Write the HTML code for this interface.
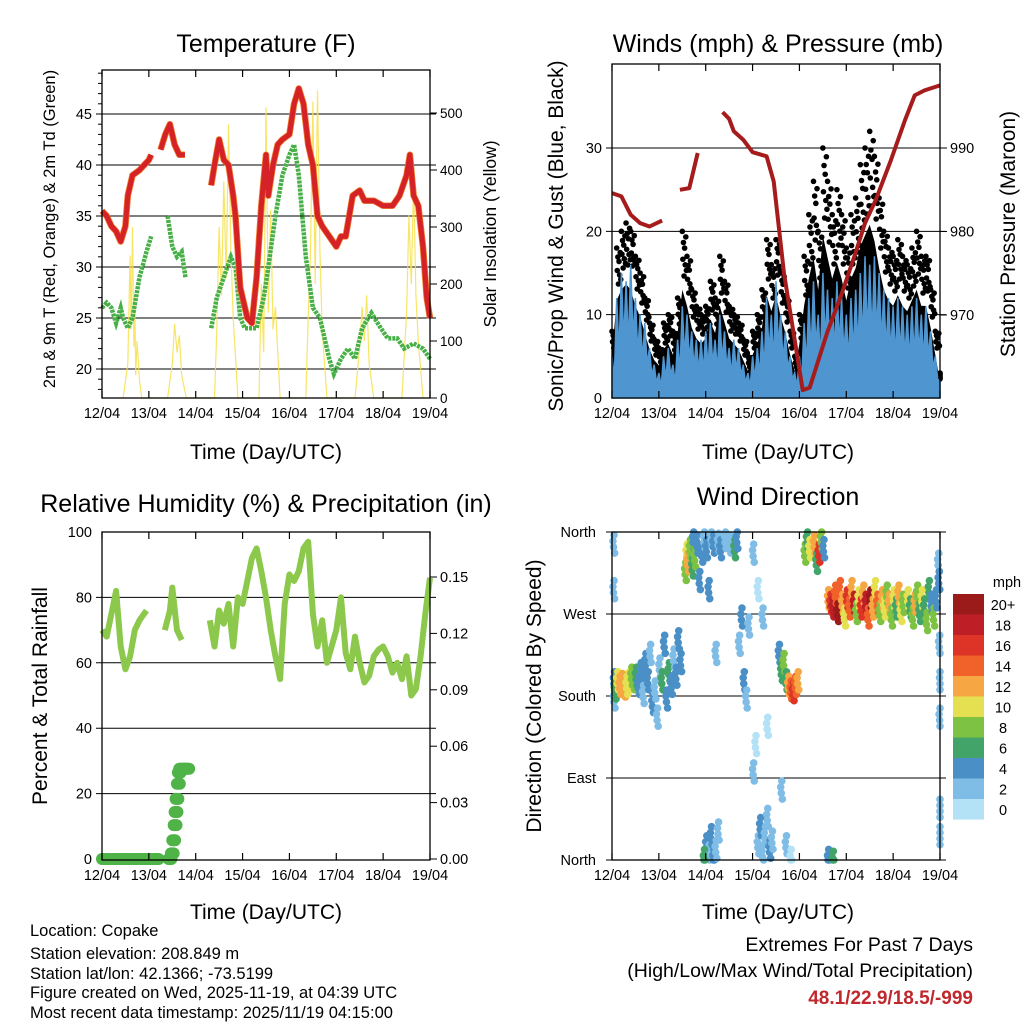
<!DOCTYPE html>
<html><head><meta charset="utf-8"><style>
html,body{margin:0;padding:0;background:#fff}
svg{display:block;font-family:"Liberation Sans",Arial,sans-serif}
</style></head><body>
<svg id="c" width="1024" height="1024" viewBox="0 0 1024 1024"></svg>
<script>
// ---------- DATA ----------
const dayLabels = ["12/04","13/04","14/04","15/04","16/04","17/04","18/04","19/04"];
const tempT = [[0,35.5],[0.1,35],[0.2,34],[0.3,33.5],[0.4,32.5],[0.5,34],[0.55,37],[0.65,39],[0.8,39.5],[0.9,40],[1.0,40.5],[1.05,41],null,
 [1.25,41.5],[1.35,43],[1.45,44],[1.55,42],[1.65,41],[1.77,41],null,
 [2.33,38],[2.4,40],[2.5,42.5],[2.6,40.5],[2.7,40],[2.8,37],[2.85,35],[2.95,28],[3.1,25],[3.2,24.5],[3.3,29],[3.4,36],[3.5,41],[3.55,37],[3.65,40],[3.75,42],[3.85,42.5],[4.0,43],[4.1,46],[4.2,47.5],[4.3,46],[4.4,42],[4.5,40],[4.6,35],[4.7,34],[4.85,33],[5.0,32],[5.1,33],[5.2,33],[5.35,37],[5.5,37.5],[5.6,36.5],[5.8,36.5],[6.0,36],[6.2,36],[6.35,37],[6.5,39],[6.57,41],[6.65,37],[6.75,36],[6.85,32],[6.93,27],[7.0,25]];
const tempTd = [[0,26],[0.1,26.5],[0.2,26],[0.3,24.5],[0.4,26],[0.45,25],[0.55,24],[0.65,25],[0.8,29],[0.95,31.5],[1.05,33],null,
 [1.4,35],[1.5,32],[1.6,31],[1.7,31.5],[1.78,29],null,
 [2.33,24],[2.45,27],[2.6,29],[2.75,31],[2.85,30],[2.95,25],[3.05,24],[3.2,24],[3.3,24],[3.45,27],[3.55,30],[3.7,35],[3.85,39],[4.0,41],[4.1,42],[4.2,39],[4.35,31],[4.5,26],[4.65,25],[4.85,21],[4.95,19.5],[5.1,21],[5.25,22],[5.4,21],[5.55,24],[5.75,25.5],[5.95,24],[6.1,23],[6.3,23],[6.45,22],[6.65,22.5],[6.85,22],[7.0,21]];
const solarT = [0.45,0.55,0.6,0.62,0.65,0.68,0.7,0.72,0.75,0.8,0.85, 1.4,1.5,1.55,1.6,1.65,1.7,1.8, 2.4,2.45,2.5,2.55,2.6,2.65,2.7,2.75,2.8,2.9, 3.35,3.4,3.45,3.5,3.55,3.6,3.65,3.7,3.8, 4.35,4.4,4.45,4.5,4.55,4.6,4.65,4.7,4.8, 5.4,5.5,5.55,5.6,5.65,5.7,5.8, 6.4,6.5,6.55,6.6,6.65,6.7,6.75,6.85];
const solarV = [0,60,250,120,300,90,180,40,100,30,0, 0,60,130,80,110,40,0, 0,120,300,180,380,210,480,260,140,0, 0,200,80,510,150,330,120,160,0, 0,140,260,520,200,540,260,120,0, 0,90,160,100,180,60,0, 0,150,320,200,380,180,100,0];
const windAvg = [5,12,15,14,16,12,10,9,6,4,3,5,6,4,7,11,10,8,7,7,8,9,7,10,8,6,7,6,4,3,5,6,8,12,10,14,10,8,5,3,5,9,12,14,10,15,13,12,14,12,10,12,13,15,17,16,17,15,13,12,11,12,11,10,11,12,10,11,8,5,2];
const windGust = [8,18,20,21,20,17,15,12,9,7,6,9,10,8,12,20,17,13,11,10,11,14,12,17,14,11,10,9,7,5,8,10,13,19,16,19,15,12,8,5,10,17,22,26,20,30,26,22,25,22,18,22,24,28,30,32,29,24,20,18,17,19,17,16,18,20,17,17,13,8,3];
const pressure = [[0,984.6],[0.2,984.2],[0.4,982],[0.6,981],[0.8,980.6],[1.07,981.3],null,[1.45,985],[1.65,985.2],[1.83,989.4],null,
 [2.36,994.3],[2.5,993.5],[2.6,992],[2.8,991],[3.0,989.5],[3.3,989],[3.45,986],[3.67,975],[3.9,967],[4.07,961],[4.22,961.3],[4.4,964.5],[4.6,968],[4.9,972.5],[5.2,977.5],[5.4,981],[5.63,983.8],[5.95,988.5],[6.25,993.3],[6.46,996.3],[6.67,996.9],[7.0,997.5]];
const rh = [[0,70],[0.1,68],[0.2,75],[0.3,82],[0.4,65],[0.5,58],[0.6,62],[0.7,70],[0.8,73],[0.95,76],null,
 [1.34,70],[1.45,76],[1.5,83],[1.6,70],[1.7,67],null,
 [2.3,73],[2.4,65],[2.5,76],[2.6,72],[2.7,78],[2.8,65],[2.9,80],[3.0,78],[3.1,85],[3.2,92],[3.3,95],[3.4,88],[3.5,80],[3.6,70],[3.7,62],[3.8,55],[3.9,78],[4.0,87],[4.1,85],[4.2,88],[4.3,95],[4.4,97],[4.5,75],[4.6,65],[4.7,73],[4.8,60],[4.9,65],[5.0,70],[5.1,80],[5.2,63],[5.3,58],[5.4,68],[5.5,60],[5.6,54],[5.7,56],[5.8,62],[5.9,64],[6.0,65],[6.1,62],[6.2,57],[6.3,60],[6.4,55],[6.5,62],[6.6,50],[6.7,52],[6.8,62],[6.9,75],[7.0,86]];
const precipT = [0,0.1,0.2,0.3,0.4,0.5,0.6,0.7,0.8,0.9,1.0,1.1,1.15,1.42,1.47,1.5,1.53,1.55,1.57,1.6,1.62,1.65,1.7,1.75,1.8];
const precipV = [0,0,0,0,0,0,0,0,0,0,0,0,0,0,0.003,0.01,0.018,0.025,0.032,0.04,0.046,0.048,0.048,0.048,0.048];
const dirT = [0.02,0.02,0.03,0.03,0.05,0.1,0.15,0.2,0.25,0.3,0.35,0.4,0.45,0.5,0.55,0.6,0.65,0.7,0.75,0.8,0.85,0.9,0.95,1.0,1.05,1.1,1.15,1.2,1.25,1.3,1.35,1.4,1.45,
 1.55,1.58,1.6,1.65,1.7,1.72,1.75,1.8,1.85,1.9,1.95,2.0,2.05,2.1,2.15,2.2,2.25,2.3,2.4,2.5,2.6,2.65,
 2.0,2.05,2.1,2.15,2.2,2.25,1.95,2.7,2.75,2.8,2.85,2.9,3.0,3.05,3.1,3.15,3.2,3.25,3.3,3.35,3.4,3.0,3.1,3.2,3.3,
 3.55,3.6,3.65,3.7,3.75,3.8,3.85,3.9,3.95,3.6,3.7,3.8,4.1,4.15,4.2,4.3,4.35,4.4,4.45,4.5,4.6,4.7,
 4.6,4.65,4.7,4.75,4.8,4.85,4.9,4.95,5.0,5.05,5.1,5.15,5.2,5.25,5.3,5.35,5.4,5.45,5.5,5.55,5.6,5.65,5.7,5.75,5.8,5.85,5.9,5.95,6.0,6.05,6.1,6.15,6.2,6.3,6.35,6.4,6.45,6.5,6.55,6.6,6.65,6.7,6.75,6.8,6.85,6.9,
 6.95,6.97,6.98,7.0,7.0,6.99,6.96];
const dirV = [350,300,200,180,190,200,195,198,192,195,200,205,200,205,195,210,185,220,200,230,175,190,160,215,200,240,180,210,195,225,205,245,220,
 320,340,330,345,325,355,335,350,310,340,355,345,300,358,350,230,352,345,355,350,345,355,
 20,10,30,5,15,35,5,240,270,200,180,260,100,130,20,40,10,30,50,15,25,340,300,270,150,
 230,210,220,200,195,190,188,195,200,80,20,5,340,355,345,350,330,340,355,345,5,3,
 290,285,280,295,275,300,285,270,290,280,300,285,275,290,280,295,285,270,290,280,300,285,275,290,280,295,285,270,290,280,295,275,285,290,280,270,285,295,275,290,280,265,300,285,270,290,
 330,240,160,30,60,200,310];
const dirS = [3,2,4,3,6,10,12,13,12,11,10,9,8,6,5,4,3,4,5,3,4,3,2,3,6,4,5,6,4,3,5,4,5,
 8,10,12,9,6,5,8,4,5,4,3,4,5,3,4,3,2,4,3,2,6,5,
 4,3,5,4,3,2,6,3,4,5,3,2,2,1,3,4,3,2,3,4,3,2,1,2,1,
 5,6,8,7,12,14,16,15,13,3,2,1,8,6,10,12,7,16,8,5,4,6,
 12,16,18,14,20,15,12,10,16,14,12,18,8,10,16,12,18,14,20,12,10,15,9,12,10,8,13,8,11,7,12,10,8,11,7,9,12,8,6,10,7,9,6,5,8,4,
 3,2,3,2,3,2,4];
const cbLabels = ["20+","18","16","14","12","10","8","6","4","2","0"];

// ---------- DRAW ----------
const NS="http://www.w3.org/2000/svg", svg=document.getElementById('c');
function el(tag,attrs,parent,text){const e=document.createElementNS(NS,tag);for(const k in attrs)e.setAttribute(k,attrs[k]);if(text!==undefined)e.textContent=text;(parent||svg).appendChild(e);return e;}
function lin(d0,d1,r0,r1){return v=>r0+(v-d0)/(d1-d0)*(r1-r0);}
function pathFrom(pts,fx,fy){let d="",pen=false;for(const p of pts){if(!p){pen=false;continue;}d+=(pen?"L":"M")+fx(p[0]).toFixed(1)+","+fy(p[1]).toFixed(1);pen=true;}return d;}
const spdColors=["#b3e2f7","#7fbde6","#4a8fc6","#43a46a","#7dc243","#e5e052","#f6a743","#f0622a","#dd3427","#be1e26","#9b1a1a"];
function spdColor(s){return spdColors[Math.min(10,Math.max(0,Math.floor(s/2)))];}
const TICK=14.5;
function frame(g,x0,x1,y0,y1){
  el('rect',{x:x0,y:y0,width:x1-x0,height:y1-y0,fill:'none',stroke:'#000','stroke-width':1.3},g);
  const fx=lin(0,7,x0,x1);
  dayLabels.forEach((l,i)=>{const x=fx(i);
    el('line',{x1:x,x2:x,y1:y1,y2:y1-7,stroke:'#000','stroke-width':1.2},g);
    el('line',{x1:x,x2:x,y1:y0,y2:y0+7,stroke:'#000','stroke-width':1.2},g);
    const t=el('text',{x:x,y:y1+20,'font-size':TICK,'text-anchor':'middle'},g,l);
    });
  return fx;
}
function label(g,x,y,txt,size,anchor,rot,name,extra){
  const a={x:x,y:y,'font-size':size,'text-anchor':anchor||'middle'};
  if(rot)a.transform=`rotate(${rot} ${x} ${y})`;
  for(const k in (extra||{}))a[k]=extra[k];
  const t=el('text',a,g,txt);return t;
}
function grid(g,x0,x1,y){el('line',{x1:x0-6,x2:x1+6,y1:y,y2:y,stroke:'#000','stroke-width':1},g);}

// Panel 1: temperature
(function(){
  const g=el('g',{}),X0=102,X1=430,Y0=70,Y1=398;
  
  const fx=lin(0,7,X0,X1), fy=lin(20,45,369,114), fs=lin(0,500,398,113);
  [20,25,30,35,40,45].forEach(v=>{grid(g,X0,X1,fy(v));label(g,X0-10,fy(v)+5,String(v),TICK,'end',0,'left-tick-label');});
  for(let v=18;v<=49;v++){if(v%5)el('line',{x1:X0,x2:X0-4,y1:fy(v),y2:fy(v),stroke:'#000'},g);}
  [0,100,200,300,400,500].forEach(v=>{el('line',{x1:X1,x2:X1+7,y1:fs(v),y2:fs(v),stroke:'#000'},g);label(g,X1+10,fs(v)+5,String(v),13.5,'start',0,'right-tick-label');});
  let sd="";solarT.forEach((t,i)=>{sd+=(i?"L":"M")+fx(t).toFixed(1)+","+fs(solarV[i]).toFixed(1);});
  const sp=el('path',{d:sd,fill:'none',stroke:'#f7e04a','stroke-width':1.2,opacity:0.85},g);
  const td=el('path',{d:pathFrom(tempTd,fx,fy),fill:'none',stroke:'#46b046','stroke-width':4.5,'stroke-dasharray':'3 1'},g);
  const to=el('path',{d:pathFrom(tempT,fx,fy),fill:'none',stroke:'#f07c30','stroke-width':6.5,'stroke-linejoin':'round'},g);
  const tt=el('path',{d:pathFrom(tempT,fx,fy),fill:'none',stroke:'#d42226','stroke-width':5,'stroke-linejoin':'round'},g);
  frame(g,X0,X1,Y0,Y1);
  label(g,266,52,'Temperature (F)',25,'middle',0,'chart-title');
  label(g,266,459,'Time (Day/UTC)',21,'middle',0,'x-axis-title');
  label(g,55,229,'2m & 9m T (Red, Orange) & 2m Td (Green)',16.5,'middle',-90,'y-axis-title');
  label(g,496,234,'Solar Insolation (Yellow)',17.5,'middle',-90,'y2-axis-title');
})();

// Panel 2: winds
(function(){
  const g=el('g',{}),X0=612,X1=940,Y0=64,Y1=398;
  
  const fx=lin(0,7,X0,X1), fy=lin(0,30,398,148), fp=lin(970,990,315,148);
  [10,20,30].forEach(v=>grid(g,X0,X1,fy(v)));
  [0,10,20,30].forEach(v=>label(g,X0-10,fy(v)+5,String(v),TICK,'end',0,'left-tick-label'));
  [970,980,990].forEach(v=>{el('line',{x1:X1,x2:X1+7,y1:fp(v),y2:fp(v),stroke:'#000'},g);label(g,X1+10,fp(v)+5,String(v),TICK,'start',0,'right-tick-label');});
  windGust.forEach((v,i)=>{const t=i*0.1;
    for(let k=0;k<8;k++){const tt=Math.min(7,t+k*0.0125);const f=[1,0.75,0.9,0.6,0.85,0.7,0.95,0.65][k];const vv=windAvg[i]*0.6+(v-windAvg[i]*0.6)*f;
      const c=el('circle',{cx:fx(tt),cy:fy(vv),r:2.8,fill:'#000'},g);}});
  let gd="M"+fx(0)+","+fy(0);windGust.forEach((v,i)=>{gd+="L"+fx(i*0.1).toFixed(1)+","+fy(v*0.65).toFixed(1);});gd+="L"+fx(7)+","+fy(0)+"Z";
  const ga=el('path',{d:gd,fill:'#000'},g);
  let wd="M"+fx(0)+","+fy(0);windAvg.forEach((v,i)=>{wd+="L"+fx(i*0.1).toFixed(1)+","+fy(v).toFixed(1)+"L"+fx(i*0.1+0.05>7?7:i*0.1+0.05).toFixed(1)+","+fy(v*0.45).toFixed(1);});wd+="L"+fx(7)+","+fy(0)+"Z";
  const wa=el('path',{d:wd,fill:'#4f95d0',stroke:'#4f95d0','stroke-width':1.5},g);
  const pp=el('path',{d:pathFrom(pressure,fx,fp),fill:'none',stroke:'#a61c1c','stroke-width':4,'stroke-linejoin':'round'},g);
  frame(g,X0,X1,Y0,Y1);
  label(g,778,52,'Winds (mph) & Pressure (mb)',25,'middle',0,'chart-title');
  label(g,778,459,'Time (Day/UTC)',21,'middle',0,'x-axis-title');
  label(g,563,236,'Sonic/Prop Wind & Gust (Blue, Black)',21,'middle',-90,'y-axis-title');
  label(g,1015,234,'Station Pressure (Maroon)',21,'middle',-90,'y2-axis-title');
})();

// Panel 3: RH
(function(){
  const g=el('g',{}),X0=102,X1=430,Y0=532,Y1=860;
  
  const fx=lin(0,7,X0,X1), fy=lin(0,100,859,532), fr=lin(0,0.15,859,577);
  [20,40,60,80].forEach(v=>grid(g,X0,X1,fy(v)));
  [0,20,40,60,80,100].forEach(v=>label(g,X0-10,fy(v)+5,String(v),TICK,'end',0,'left-tick-label'));
  [0,0.03,0.06,0.09,0.12,0.15].forEach(v=>{el('line',{x1:X1,x2:X1+7,y1:fr(v),y2:fr(v),stroke:'#000'},g);label(g,X1+10,fr(v)+5,v.toFixed(2),TICK,'start',0,'right-tick-label');});
  const rp=el('path',{d:pathFrom(rh,fx,fy),fill:'none',stroke:'#8cc84b','stroke-width':6,'stroke-linejoin':'round'},g);
  precipT.forEach((t,i)=>{for(let k=0;k<3;k++){const c=el('circle',{cx:fx(t+k*0.03),cy:fr(precipV[i]),r:6,fill:'#4fb348'},g);}});
  frame(g,X0,X1,Y0,Y1);
  label(g,266,512,'Relative Humidity (%) & Precipitation (in)',25,'middle',0,'chart-title');
  label(g,266,919,'Time (Day/UTC)',21,'middle',0,'x-axis-title');
  label(g,47,696,'Percent & Total Rainfall',21,'middle',-90,'y-axis-title');
})();

// Panel 4: wind direction
(function(){
  const g=el('g',{}),X0=612,X1=940,Y0=532,Y1=860;
  
  const fx=lin(0,7,X0,X1), fy=lin(0,360,860,532);
  [90,180,270].forEach(v=>grid(g,X0,X1,fy(v)));
  grid(g,X0,X1,fy(0));grid(g,X0,X1,fy(360));
  [["North",0],["East",90],["South",180],["West",270],["North",360]].forEach(a=>label(g,X0-16,fy(a[1])+5,a[0],TICK,'end',0,'direction-tick-label'));
  dirT.forEach((t,i)=>{for(let k=0;k<4;k++){const off=[0,6,-6,12][k];const c=el('circle',{cx:fx(Math.min(7,t+k*0.012)),cy:Math.min(860,Math.max(532,fy(dirV[i])+off)),r:3.8,fill:spdColor(dirS[i])},g);
    }});
  frame(g,X0,X1,Y0,Y1);
  label(g,778,505,'Wind Direction',25,'middle',0,'chart-title');
  label(g,778,919,'Time (Day/UTC)',21,'middle',0,'x-axis-title');
  label(g,541,696,'Direction (Colored By Speed)',21,'middle',-90,'y-axis-title');
  const cb=el('g',{},g);
  cbLabels.forEach((l,i)=>{const y=594+i*20.5;
    const r=el('rect',{x:953,y:y,width:31,height:20.6,fill:spdColors[10-i]},cb);
    label(cb,1003,y+16,l,TICK,'middle',0,'colorbar-label');});
  label(cb,1007,587,'mph',TICK,'middle',0,'colorbar-title');
})();

const info=["Location: Copake","Station elevation: 208.849 m","Station lat/lon: 42.1366; -73.5199","Figure created on Wed, 2025-11-19, at 04:39 UTC","Most recent data timestamp: 2025/11/19 04:15:00"];
[936,959,979,998,1018].forEach((y,i)=>label(svg,30,y,info[i],16.5,'start',0,'station-info-line'));
label(svg,973,951,'Extremes For Past 7 Days',19.5,'end',0,'extremes-title');
label(svg,973,977,'(High/Low/Max Wind/Total Precipitation)',19.5,'end',0,'extremes-subtitle');
label(svg,973,1004,'48.1/22.9/18.5/-999',19,'end',0,'extremes-values',{fill:'#c0282d','font-weight':'bold'});
</script>
</body></html>
